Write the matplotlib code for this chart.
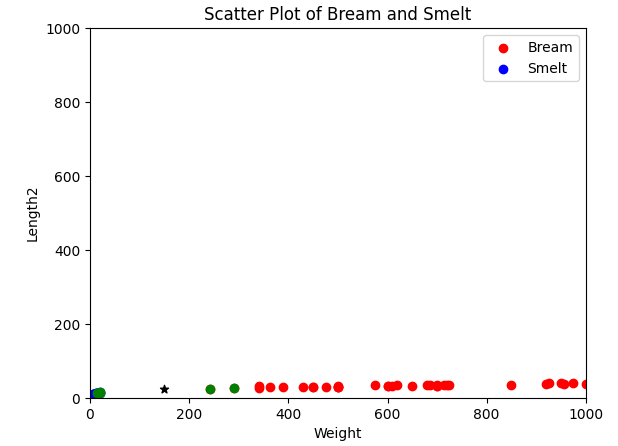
import matplotlib
matplotlib.use("Agg")
import matplotlib.pyplot as plt

bream_length = [25.4, 26.3, 26.5, 29.0, 29.0, 29.7, 29.7, 30.0, 30.0, 30.7, 31.0, 31.0,
                31.5, 32.0, 32.0, 32.0, 33.0, 33.0, 33.5, 33.5, 34.0, 34.0, 34.5, 35.0,
                35.0, 35.0, 35.0, 36.0, 36.0, 37.0, 38.5, 38.5, 39.5, 41.0, 41.0]
bream_weight = [242.0, 290.0, 340.0, 363.0, 430.0, 450.0, 500.0, 390.0, 450.0, 500.0, 475.0, 500.0,
                500.0, 340.0, 600.0, 600.0, 700.0, 700.0, 610.0, 650.0, 575.0, 685.0, 620.0, 680.0,
                700.0, 725.0, 720.0, 714.0, 850.0, 1000.0, 920.0, 955.0, 925.0, 975.0, 950.0]
smelt_length = [9.8, 10.5, 10.6, 11.0, 11.2, 11.3, 11.8, 11.8, 12.0, 12.2, 12.4, 13.0, 14.3, 15.0]
smelt_weight = [6.7, 7.5, 7.0, 9.7, 9.8, 8.7, 10.0, 9.9, 9.8, 12.2, 13.4, 12.2, 19.7, 19.9]

# new sample and its nearest neighbours
new_weight = [150]
new_length = [25]
neigh_weight = [242.0, 290.0, 19.9, 19.7, 13.4]
neigh_length = [25.4, 26.3, 15.0, 14.3, 12.4]

fig = plt.figure(figsize=(6.18, 4.46), dpi=100)
fig.subplots_adjust(left=0.1456, right=0.948, top=0.937, bottom=0.1076)

plt.scatter(bream_weight, bream_length, c='red', label='Bream')
plt.scatter(smelt_weight, smelt_length, c='blue', label='Smelt')
plt.scatter(new_weight, new_length, marker='*', c='black')
plt.scatter(neigh_weight, neigh_length, c='green')
plt.xlim((0, 1000))
plt.ylim((0, 1000))
plt.xlabel('Weight')
plt.ylabel('Length2')
plt.title('Scatter Plot of Bream and Smelt')
plt.legend()

plt.savefig('out.png')
